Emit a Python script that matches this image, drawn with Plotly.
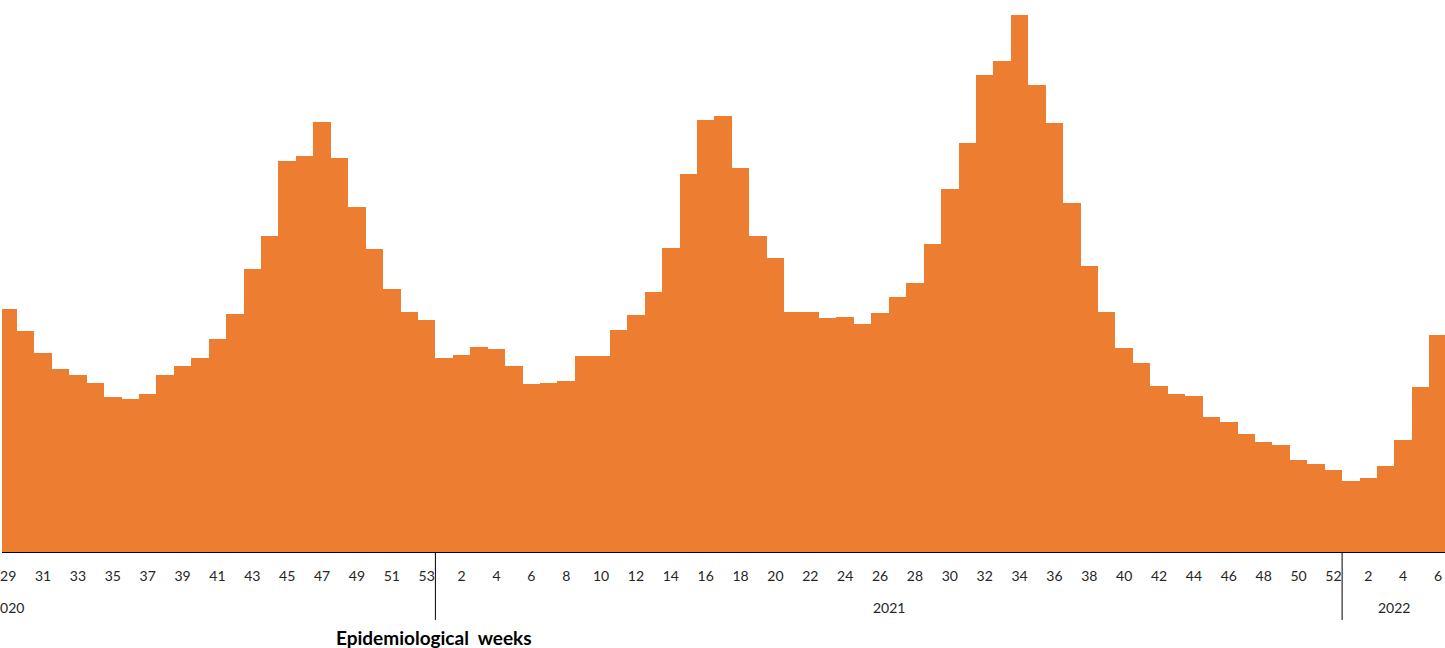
import plotly.graph_objects as go

# Weekly values (arbitrary units)
weeks_2020 = list(range(29, 54))
values_2020 = [243, 221, 199, 183, 177, 169, 155, 153, 158, 177, 186, 194, 213,
               238, 283, 316, 391, 396, 430, 394, 345, 303, 263, 240, 232]
weeks_2021 = list(range(1, 53))
values_2021 = [194, 197, 205, 203, 186, 168, 169, 171, 196, 196, 222, 237, 260,
               304, 378, 432, 436, 384, 316, 294, 240, 240, 234, 235, 228, 239,
               255, 269, 308, 363, 409, 477, 491, 537, 467, 429, 349, 286, 240,
               204, 189, 166, 158, 156, 135, 130, 118, 110, 107, 92, 88, 82]
weeks_2022 = list(range(1, 7))
values_2022 = [71, 74, 86, 112, 165, 217]

year_labels = ["2020", "2021", "2022"]
x_title = "Epidemiological &nbsp;weeks"

week_labels = [str(w) for w in weeks_2020 + weeks_2021 + weeks_2022]
values = values_2020 + values_2021 + values_2022
idx = list(range(len(values)))

ORANGE = "#ED7D31"
FONT = "Lato"
TXT = "#262626"

fig = go.Figure()
fig.add_trace(go.Bar(x=idx, y=values, marker=dict(color=ORANGE, line=dict(width=0)),
                     hoverinfo="skip"))

tickvals = idx[::2]
ticktext = [week_labels[i] for i in tickvals]

n20, n21 = len(weeks_2020), len(weeks_2021)
div1 = n20 - 0.5
div2 = n20 + n21 - 0.5

shapes = [
    dict(type="line", xref="x", yref="paper", x0=d, x1=d, y0=0, y1=-0.123,
         line=dict(color="#000000", width=1))
    for d in (div1, div2)
]

year_y = -0.101
annotations = [
    dict(x=0, y=year_y, xref="x", yref="paper", text=year_labels[0], showarrow=False,
         xanchor="center", yanchor="middle", font=dict(family=FONT, size=14, color=TXT)),
    dict(x=(div1 + div2) / 2, y=year_y, xref="x", yref="paper", text=year_labels[1],
         showarrow=False, xanchor="center", yanchor="middle",
         font=dict(family=FONT, size=14, color=TXT)),
    dict(x=(div2 + len(values) - 0.5) / 2 - 0.05, y=year_y, xref="x", yref="paper",
         text=year_labels[2], showarrow=False, xanchor="center", yanchor="middle",
         font=dict(family=FONT, size=14, color=TXT)),
    dict(x=433 / 1445, y=-0.154, xref="paper", yref="paper", text="<b>" + x_title + "</b>",
         showarrow=False, xanchor="center", yanchor="middle",
         font=dict(family=FONT, size=19, color="#000000")),
]

fig.update_layout(
    width=1445, height=648,
    margin=dict(l=0, r=0, t=0, b=96),
    paper_bgcolor="white", plot_bgcolor="white",
    bargap=0, showlegend=False,
    shapes=shapes, annotations=annotations,
    xaxis=dict(range=[-0.357, 82.40], tickmode="array", tickvals=tickvals,
               ticktext=ticktext, ticks="", showgrid=False, zeroline=False,
               showline=True, linecolor="#000000", linewidth=1,
               tickfont=dict(family=FONT, size=14, color=TXT),
               ticklabelstandoff=11, ticklabeloverflow="allow"),
    yaxis=dict(range=[0, 552], visible=False, showgrid=False, zeroline=False),
)

fig.write_html("out.html", config={"displayModeBar": False},
               post_script="document.body.style.margin='0';document.body.style.overflow='hidden';")
